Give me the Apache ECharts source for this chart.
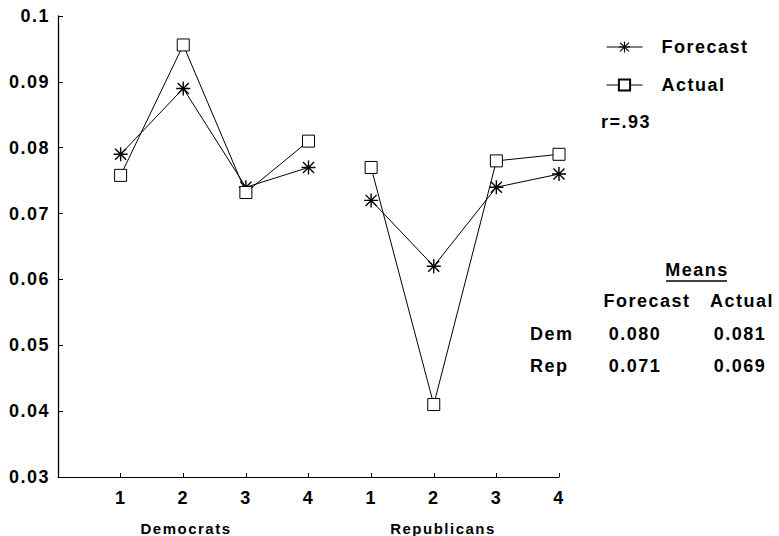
<!DOCTYPE html>
<html>
<head>
<meta charset="utf-8">
<script src="https://cdn.jsdelivr.net/npm/echarts@6/dist/echarts.min.js"></script>
<style>
  html, body { margin: 0; padding: 0; background: #fff; }
  #chart { width: 779px; height: 536px; }
  #chart svg text { letter-spacing: 1.5px; }
</style>
</head>
<body>
<div id="chart"></div>
<script>
// ---- data ----
const categories = ['', '1', '2', '3', '4', '1', '2', '3', '4'];
const groupNames = ['Democrats', 'Republicans'];
const demForecast = [0.079, 0.089, 0.074, 0.077];
const demActual = [0.0758, 0.0956, 0.0732, 0.081];
const repForecast = [0.072, 0.062, 0.074, 0.076];
const repActual = [0.077, 0.041, 0.078, 0.079];
const yMin = 0.03, yMax = 0.1, yStep = 0.01;
const seriesNames = ['Forecast', 'Actual'];
const rText = 'r=.93';
const meansTitle = 'Means';
const meansRows = ['Dem', 'Rep'];
const meansForecast = ['0.080', '0.071'];
const meansActual = ['0.081', '0.069'];

// ---- helpers ----
const FONT = '"Liberation Sans", Arial, Helvetica, sans-serif';
const FS = 18;
const pad = n => new Array(n).fill(null);
const demData = v => [null].concat(v, pad(4));
const repData = v => pad(5).concat(v);

const starPath = 'path://M4.5 0 L5.5 0 L5.5 10 L4.5 10 Z M0 4.5 L10 4.5 L10 5.5 L0 5.5 Z ' +
  'M0.7 1.4 L1.4 0.7 L9.3 8.6 L8.6 9.3 Z M8.6 0.7 L9.3 1.4 L1.4 9.3 L0.7 8.6 Z';

function mkSeries(name, data, isStar) {
  return {
    name: name,
    type: 'line',
    data: data,
    connectNulls: false,
    symbol: isStar ? starPath : 'rect',
    symbolSize: isStar ? 14 : 12,
    showAllSymbol: true,
    lineStyle: { color: '#000', width: 1 },
    itemStyle: isStar ? { color: '#000' } : { color: '#fff', borderColor: '#000', borderWidth: 1 },
    emphasis: { disabled: true },
    animation: false
  };
}

const chart = echarts.init(document.getElementById('chart'), null, { renderer: 'svg' });

const txt = (text, x, y, align, size) => ({
  type: 'text', x: x, y: y,
  style: { text: text, font: 'bold ' + (size || FS) + 'px ' + FONT, fill: '#000',
           textAlign: align || 'left', textVerticalAlign: 'middle' }
});

const graphics = [
  txt(groupNames[0], 186, 528, 'center', 15),
  txt(groupNames[1], 443, 528, 'center', 15),
  txt(rText, 601, 122, 'left'),
  txt(meansTitle, 697, 270, 'center'),
  { type: 'line', shape: { x1: 666, y1: 281, x2: 727, y2: 281 }, style: { stroke: '#000', lineWidth: 1.3 } },
  txt(seriesNames[0], 647, 301, 'center'),
  txt(seriesNames[1], 742, 301, 'center'),
  txt(meansRows[0], 530, 334, 'left'),
  txt(meansRows[1], 530, 366, 'left'),
  txt(meansForecast[0], 635, 334, 'center'),
  txt(meansForecast[1], 635, 366, 'center'),
  txt(meansActual[0], 740, 334, 'center'),
  txt(meansActual[1], 740, 366, 'center')
];

chart.setOption({
  animation: false,
  backgroundColor: '#fff',
  grid: { left: 58, right: 220, top: 16, bottom: 59, containLabel: false },
  xAxis: {
    type: 'category',
    data: categories,
    boundaryGap: false,
    axisLine: { lineStyle: { color: '#000', width: 1 } },
    axisTick: { show: true, inside: true, length: 4, lineStyle: { color: '#000' } },
    axisLabel: { margin: 12, color: '#000', fontWeight: 'bold', fontSize: FS, fontFamily: FONT, interval: 0 },
    splitLine: { show: false }
  },
  yAxis: {
    type: 'value',
    min: yMin, max: yMax, interval: yStep,
    axisLine: { show: true, lineStyle: { color: '#000', width: 1.3 } },
    axisTick: { show: true, inside: true, length: 5, lineStyle: { color: '#000' } },
    axisLabel: { margin: 8, color: '#000', fontWeight: 'bold', fontSize: FS, fontFamily: FONT,
                 formatter: v => String(+v.toFixed(2)) },
    splitLine: { show: false }
  },
  legend: {
    orient: 'vertical',
    left: 601, top: 33,
    itemWidth: 36, itemHeight: 14, itemGap: 20,
    data: seriesNames,
    selectedMode: false,
    lineStyle: { width: 1 },
    textStyle: { color: '#000', fontWeight: 'bold', fontSize: FS, fontFamily: FONT, padding: [0, 0, 0, 14] }
  },
  series: [
    mkSeries(seriesNames[0], demData(demForecast), true),
    mkSeries(seriesNames[1], demData(demActual), false),
    mkSeries(seriesNames[0], repData(repForecast), true),
    mkSeries(seriesNames[1], repData(repActual), false)
  ],
  graphic: graphics
});
</script>
</body>
</html>
